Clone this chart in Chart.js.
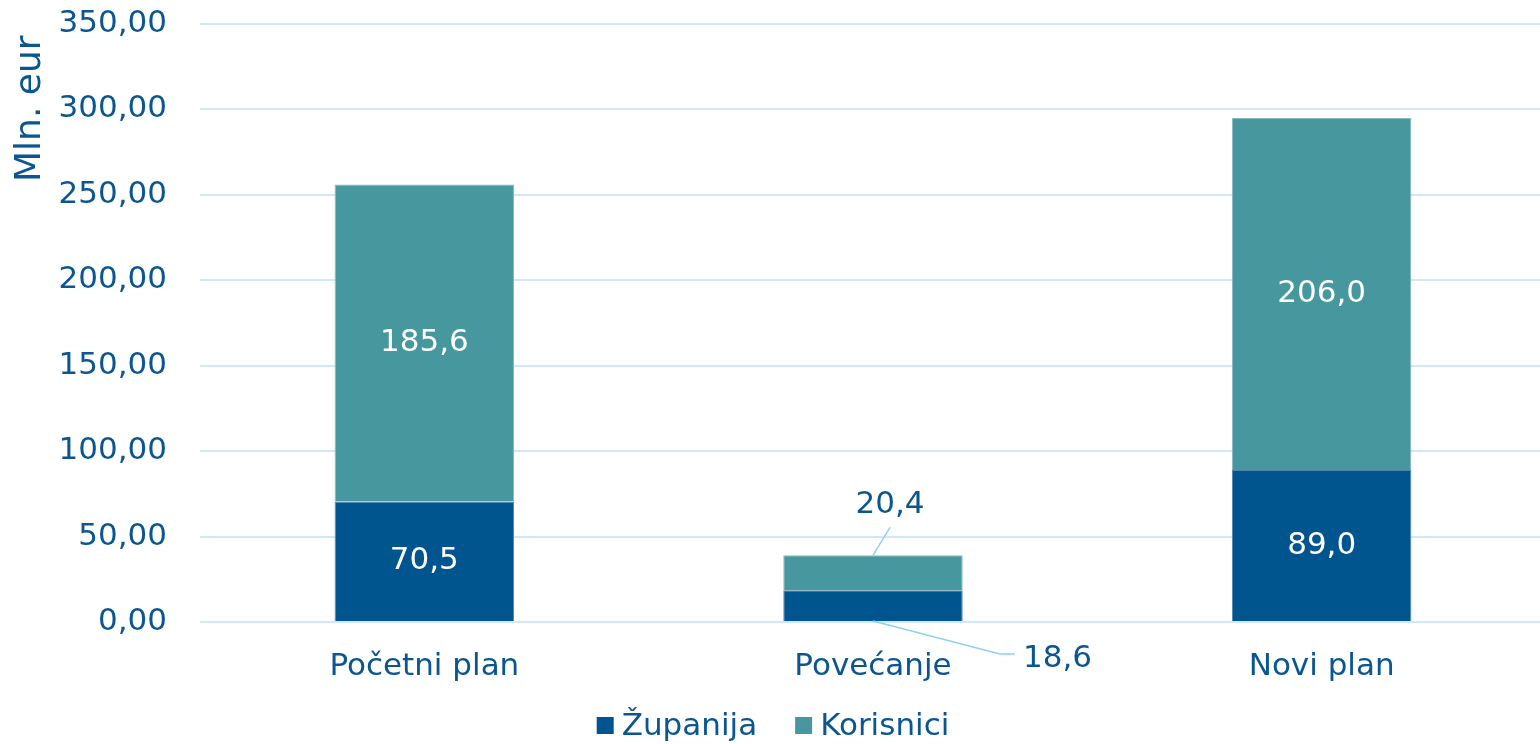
<!DOCTYPE html>
<html>
<head>
<meta charset="utf-8">
<script src="https://cdn.jsdelivr.net/npm/chart.js@4"></script>
<style>
  html, body { margin: 0; padding: 0; background: #fff; overflow: hidden; }
  #wrap { width: 1546px; height: 744px; }
</style>
</head>
<body>
<div id="wrap"><canvas id="myChart"></canvas></div>
<script>
const categories = ['Početni plan', 'Povećanje', 'Novi plan'];
const zupanija = [70.5, 18.6, 89.0];
const korisnici = [185.6, 20.4, 206.0];
const seriesNames = ['Županija', 'Korisnici'];
const yTicks = [0, 50, 100, 150, 200, 250, 300, 350];

const textColor = '#0B5690';
const darkBlue = '#00558F';
const teal = '#47979E';
const gridColor = '#CFE9FA';
const fontFamily = 'Verdana, "DejaVu Sans", sans-serif';

function fmt(v, d) {
  return v.toFixed(d).replace('.', ',');
}

// draws value labels; small middle bar gets callouts with leader lines
const valueLabels = {
  id: 'valueLabels',
  afterDatasetsDraw(chart) {
    const ctx = chart.ctx;
    ctx.save();
    ctx.font = '31px ' + fontFamily;
    ctx.textAlign = 'center';
    ctx.textBaseline = 'middle';
    chart.data.datasets.forEach(function (ds, di) {
      const meta = chart.getDatasetMeta(di);
      meta.data.forEach(function (bar, i) {
        const txt = fmt(ds.data[i], 1);
        if (i === 1) {
          ctx.strokeStyle = '#8FD0F5';
          ctx.lineWidth = 1.5;
          ctx.fillStyle = textColor;
          if (di === 1) {
            ctx.beginPath();
            ctx.moveTo(bar.x, bar.y);
            ctx.lineTo(bar.x + 17, bar.y - 28);
            ctx.stroke();
            ctx.fillText(txt, bar.x + 17, bar.y - 50);
          } else {
            ctx.beginPath();
            ctx.moveTo(bar.x, bar.base);
            ctx.lineTo(bar.x + 127, bar.base + 33);
            ctx.lineTo(bar.x + 142, bar.base + 33);
            ctx.stroke();
            ctx.textAlign = 'left';
            ctx.fillText(txt, bar.x + 150, bar.base + 38);
            ctx.textAlign = 'center';
          }
        } else {
          ctx.fillStyle = '#ffffff';
          ctx.fillText(txt, bar.x, (bar.y + bar.base) / 2);
        }
      });
    });
    ctx.restore();
  }
};

// legend drawn by hand so box size and gaps match the original
const bottomLegend = {
  id: 'bottomLegend',
  afterDraw(chart) {
    const ctx = chart.ctx;
    ctx.save();
    ctx.font = '31px ' + fontFamily;
    ctx.textBaseline = 'alphabetic';
    ctx.textAlign = 'left';
    const box = 17, gapBox = 8, gapItem = 38;
    const items = chart.data.datasets.map(function (ds) {
      return { text: ds.label, color: ds.backgroundColor, w: ctx.measureText(ds.label).width };
    });
    let total = 0;
    items.forEach(function (it, k) {
      total += box + gapBox + it.w + (k ? gapItem : 0);
    });
    let x = chart.width / 2 - total / 2;
    const baseY = 735;
    items.forEach(function (it) {
      ctx.fillStyle = it.color;
      ctx.fillRect(x, baseY - box - 1, box, box);
      x += box + gapBox;
      ctx.fillStyle = textColor;
      ctx.fillText(it.text, x, baseY);
      x += it.w + gapItem;
    });
    ctx.restore();
  }
};

new Chart(document.getElementById('myChart'), {
  type: 'bar',
  data: {
    labels: categories,
    datasets: [{
      label: seriesNames[0],
      data: zupanija,
      backgroundColor: darkBlue,
      borderColor: '#4F86B2',
      borderWidth: 1,
      barPercentage: 0.4,
      categoryPercentage: 1
    }, {
      label: seriesNames[1],
      data: korisnici,
      backgroundColor: teal,
      borderColor: '#86BBC0',
      borderWidth: 1,
      barPercentage: 0.4,
      categoryPercentage: 1
    }]
  },
  options: {
    responsive: true,
    maintainAspectRatio: false,
    animation: false,
    layout: { padding: { top: 24, right: 0, bottom: 60, left: 0 } },
    plugins: {
      legend: { display: false },
      tooltip: { enabled: false }
    },
    scales: {
      x: {
        stacked: true,
        grid: { display: false },
        border: { display: false },
        afterFit: function (axis) { axis.height = 62; },
        ticks: {
          color: textColor,
          font: { family: fontFamily, size: 31 },
          padding: 18,
          maxRotation: 0
        }
      },
      y: {
        stacked: true,
        min: 0,
        max: 350,
        afterBuildTicks: function (axis) {
          axis.ticks = yTicks.map(function (v) { return { value: v }; });
        },
        afterFit: function (axis) {
          axis.width = 200;
          axis.paddingTop = 0;
          axis.paddingBottom = 0;
        },
        grid: { color: gridColor, lineWidth: 2, drawTicks: false },
        border: { display: false },
        title: {
          display: true,
          text: 'Mln. eur ',
          align: 'end',
          color: textColor,
          font: { family: fontFamily, size: 36 },
          padding: { top: 9, bottom: 0 }
        },
        ticks: {
          color: textColor,
          font: { family: fontFamily, size: 31 },
          padding: 33,
          callback: function (value) { return fmt(value, 2); }
        }
      }
    }
  },
  plugins: [valueLabels, bottomLegend]
});
</script>
</body>
</html>
